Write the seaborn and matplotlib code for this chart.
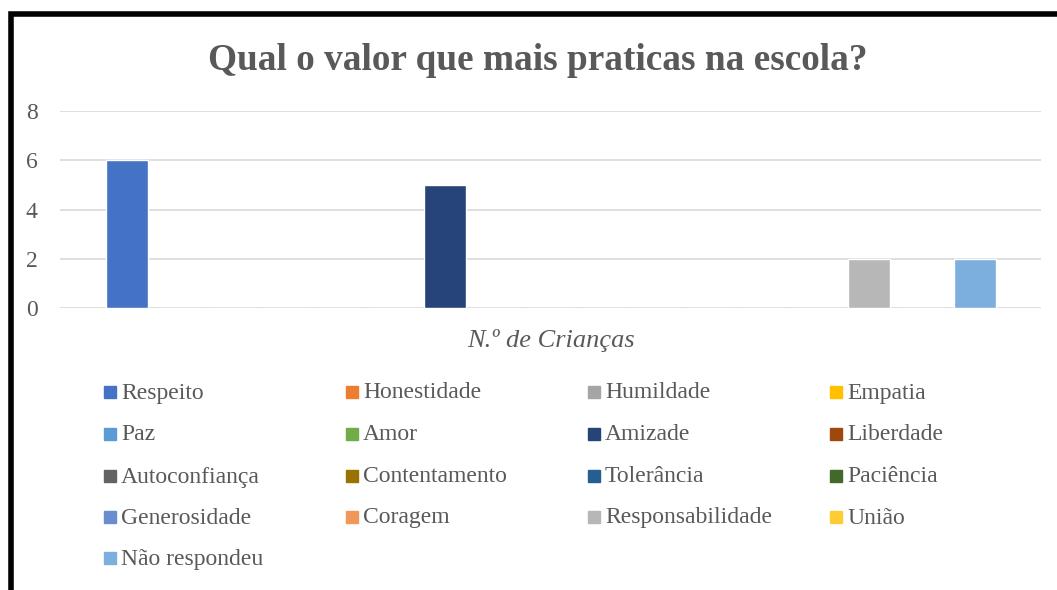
import matplotlib
matplotlib.use("Agg")
import matplotlib.pyplot as plt
import matplotlib.patches as mpatches
import seaborn as sns
import pandas as pd

categories = ["Respeito", "Honestidade", "Humildade", "Empatia", "Paz", "Amor",
              "Amizade", "Liberdade", "Autoconfiança", "Contentamento", "Tolerância",
              "Paciência", "Generosidade", "Coragem", "Responsabilidade", "União",
              "Não respondeu"]
values = [6, 0, 0, 0, 0, 0, 5, 0, 0, 0, 0, 0, 0, 0, 2, 0, 2]
colors = ["#4472C4", "#ED7D31", "#A5A5A5", "#FFC000", "#5B9BD5", "#70AD47",
          "#264478", "#9E480E", "#636363", "#997300", "#255E91", "#43682B",
          "#698ED0", "#F1975A", "#B7B7B7", "#FFCD33", "#7CAFDD"]
yticks = [0, 2, 4, 6, 8]
title = "Qual o valor que mais praticas na escola?"
xlabel = "N.º de Crianças"

sns.set_theme(style="white")
plt.rcParams['font.family'] = ['Liberation Serif', 'DejaVu Serif']

W, H = 1057, 590
fig = plt.figure(figsize=(W / 100, H / 100), dpi=100)
# axes: left 60, right 1041, top (8) 111, bottom (0) 308
ax = fig.add_axes([60 / W, 1 - 308 / H, (1041 - 60) / W, (308 - 111) / H])

df = pd.DataFrame({"cat": categories, "val": values})
sns.barplot(data=df, x="cat", y="val", hue="cat", order=categories,
            hue_order=categories, palette=colors, legend=False,
            width=0.79, ax=ax, saturation=1)

ax.set_ylim(0, 8)
ax.set_xlim(-1.264, 17.245)
ax.set_yticks(yticks)
ax.set_yticklabels([str(t) for t in yticks], color="#595959", fontsize=17)
ax.tick_params(axis="y", length=0, pad=16)
ax.set_xticks([])
ax.set_xlabel("")
ax.set_ylabel("")
for s in ax.spines.values():
    s.set_visible(False)
ax.grid(axis="y", color="#D9D9D9", linewidth=1.2)
ax.set_axisbelow(True)

fig.text(538 / W, 1 - 61 / H, title, ha="center", va="center",
         fontsize=26.8, fontweight="bold", color="#595959")
fig.text(551 / W, 1 - 341 / H, xlabel, ha="center", va="center",
         fontsize=19, fontstyle="italic", color="#595959")

# legend
col_x = [104, 346, 588, 830]
row_y = [392, 434, 476, 517, 558]
for i, (c, col) in enumerate(zip(categories, colors)):
    r, k = divmod(i, 4)
    x = col_x[k]
    y = row_y[r]
    fig.patches.append(mpatches.Rectangle(((x) / W, 1 - (y + 6) / H), 12 / W, 12 / H,
                                          transform=fig.transFigure, color=col))
    fig.text((x + 17) / W, 1 - (y + 1) / H, c, ha="left", va="center",
             fontsize=17, color="#595959")

# frame
fig.patches.append(mpatches.Rectangle((11 / W, -0.1), 1.2, 1 - 14 / H + 0.1,
                                      transform=fig.transFigure, fill=False,
                                      edgecolor="black", linewidth=4))

fig.savefig("out.png", dpi=100)
